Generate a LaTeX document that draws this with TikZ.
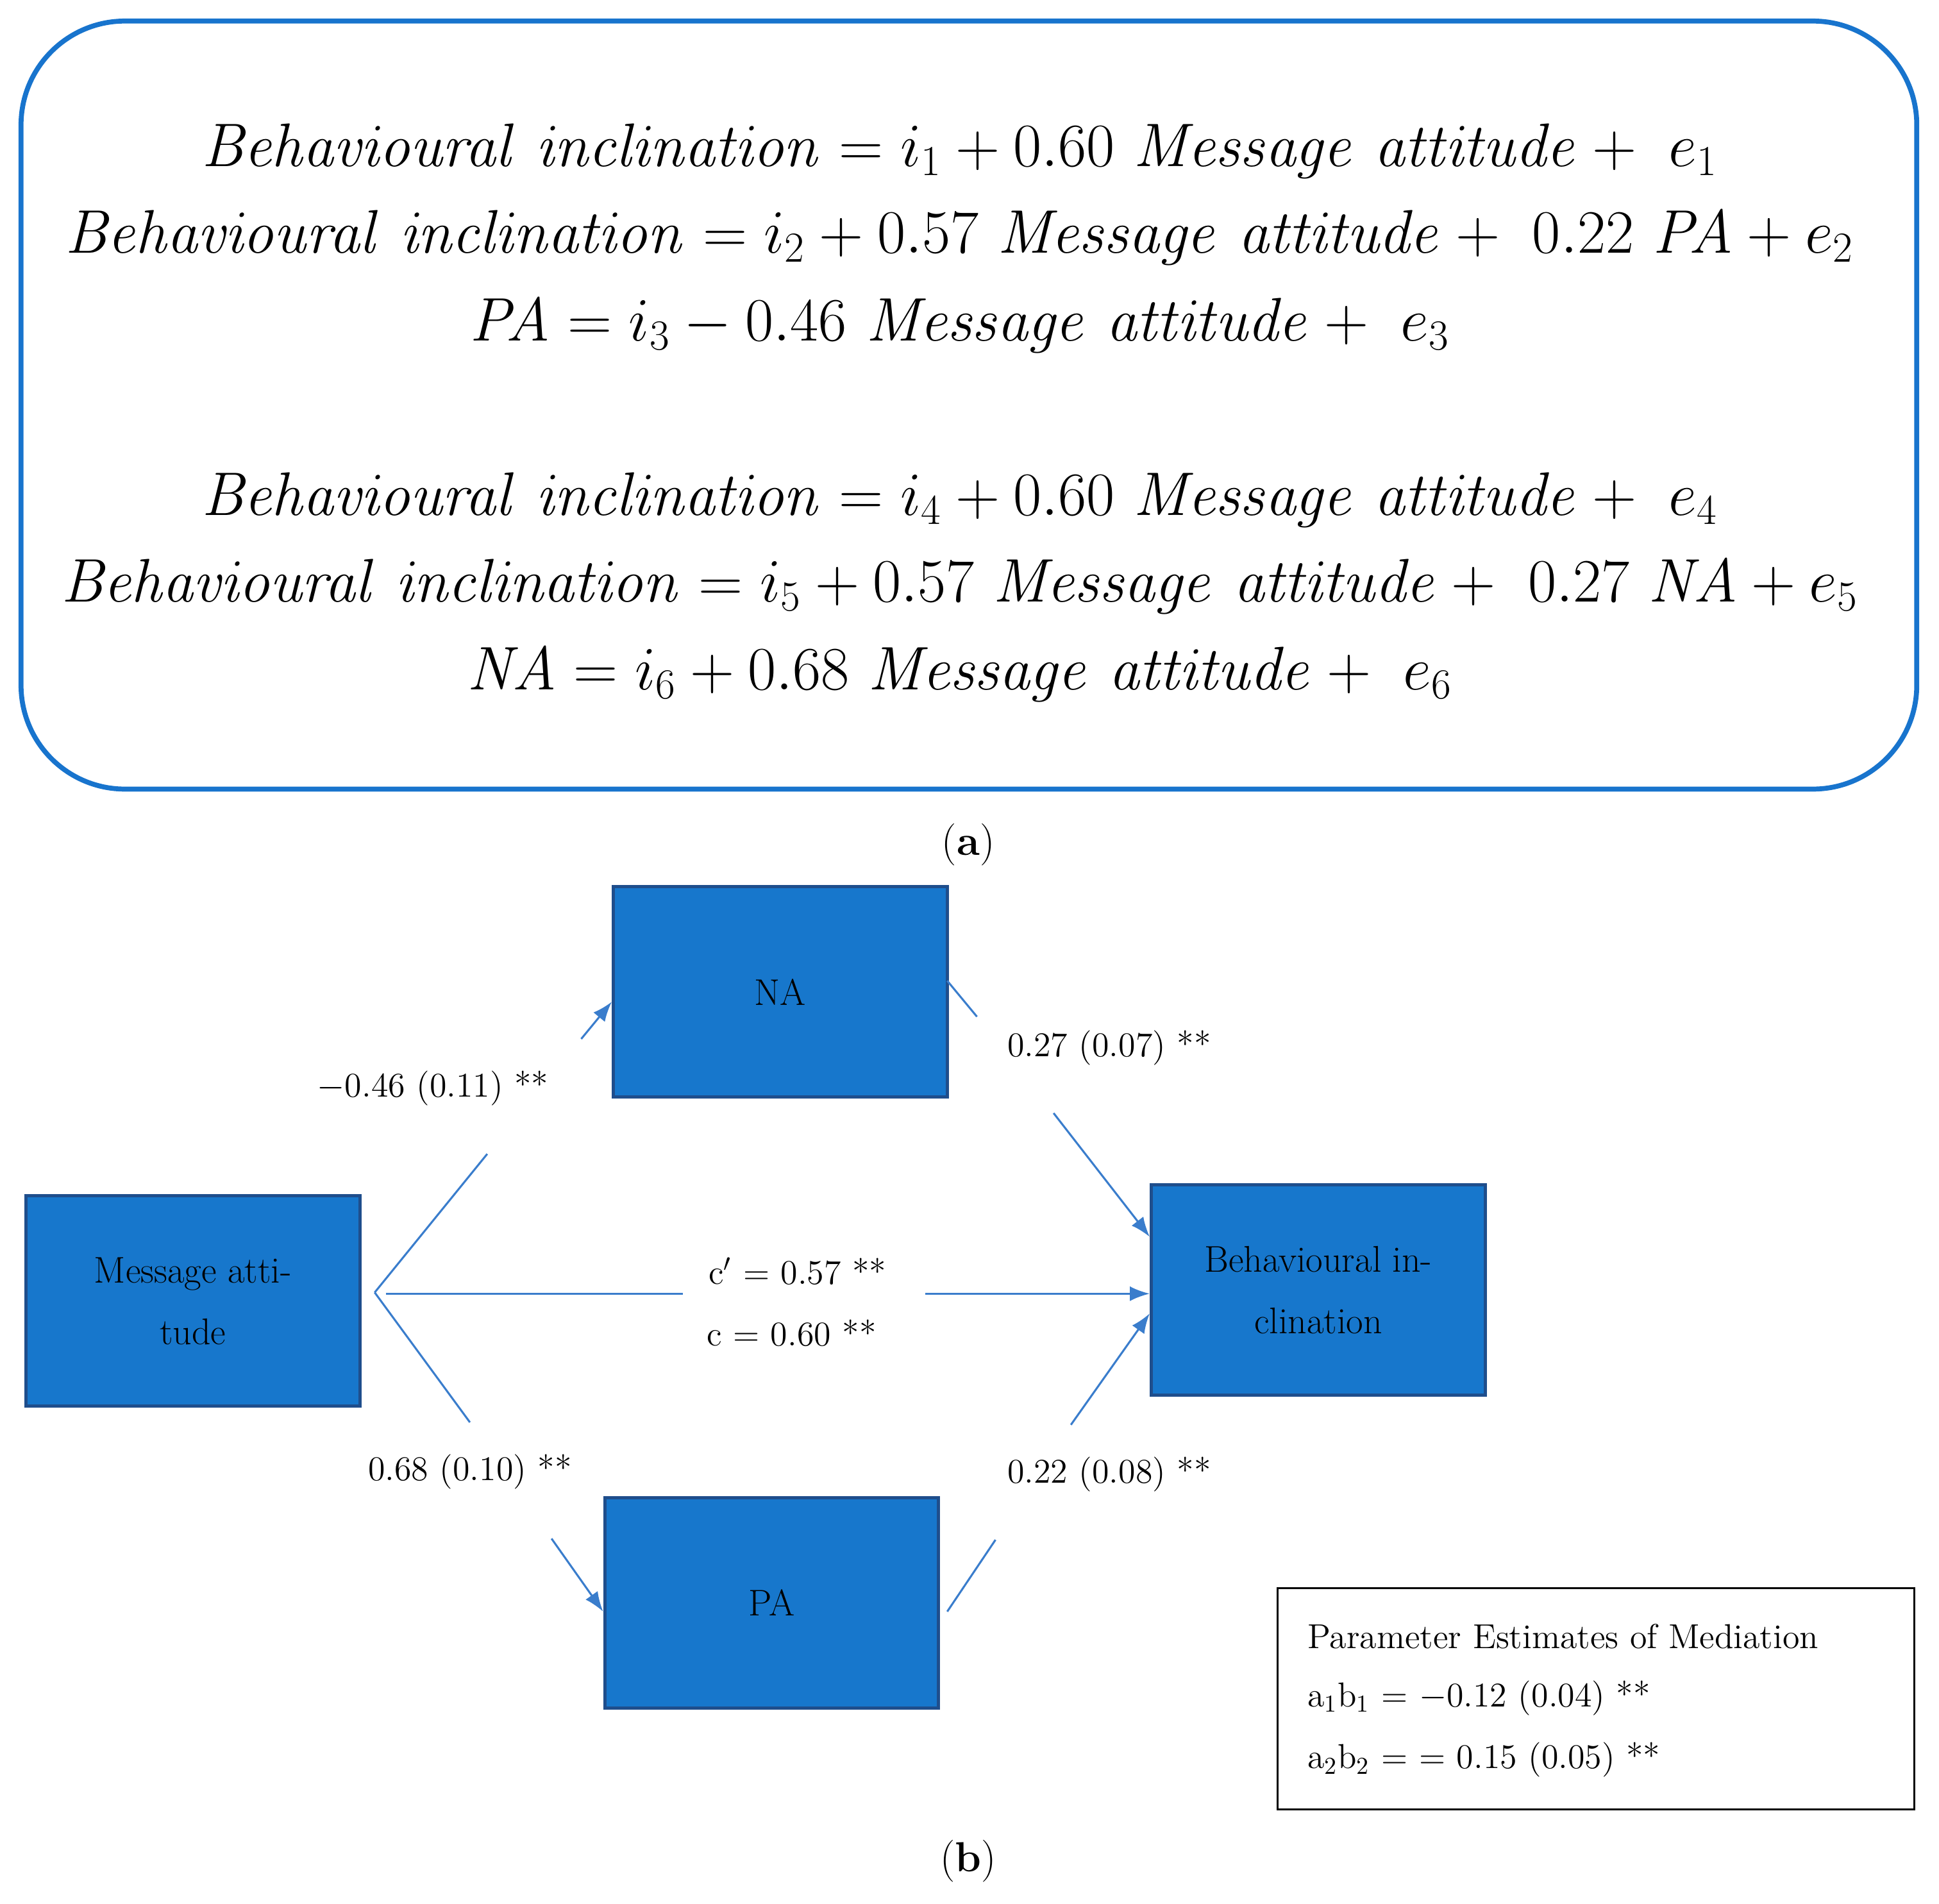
\documentclass[tikz,border=0pt]{standalone}
\usepackage{amsmath}
\usetikzlibrary{arrows.meta}
\definecolor{frameblue}{HTML}{1874CD}
\definecolor{boxfill}{HTML}{1777CC}
\definecolor{boxedge}{HTML}{1F4E8C}
\definecolor{lineblue}{HTML}{3A7DCC}
\begin{document}
\begin{tikzpicture}[x=0.5pt,y=-0.5pt,
  eq/.style={font=\fontsize{25}{30}\selectfont},
  box/.style={draw=boxedge,line width=1.3pt,fill=boxfill,minimum width=135pt,minimum height=85pt,align=center,font=\fontsize{15}{25}\selectfont,inner sep=0pt},
  lab/.style={font=\fontsize{14}{16}\selectfont,inner sep=0pt},
  conn/.style={draw=lineblue,line width=0.8pt},
  arr/.style={conn,-{Latex[length=8pt,width=6pt]}}]
\useasboundingbox (0,0) rectangle (1568,1539);
\draw[frameblue,line width=2pt,rounded corners=42pt] (17,17) rectangle (1550,638);
\node[eq] (e1) at (776,122) {$\mathit{Behavioural\ inclination}=i_1+0.60\ \mathit{Message\ attitude}+\ e_1$};
\node[eq] (e2) at (776,192) {$\mathit{Behavioural\ inclination}=i_2+0.57\ \mathit{Message\ attitude}+\ 0.22\ \mathit{PA}+e_2$};
\node[eq] (e3) at (776,263) {$\mathit{PA}=i_3-0.46\ \mathit{Message\ attitude}+\ e_3$};
\node[eq] (e4) at (776,404) {$\mathit{Behavioural\ inclination}=i_4+0.60\ \mathit{Message\ attitude}+\ e_4$};
\node[eq] (e5) at (776,474) {$\mathit{Behavioural\ inclination}=i_5+0.57\ \mathit{Message\ attitude}+\ 0.27\ \mathit{NA}+e_5$};
\node[eq] (e6) at (776,545) {$\mathit{NA}=i_6+0.68\ \mathit{Message\ attitude}+\ e_6$};
\node[font=\fontsize{17}{18}\selectfont] (ta) at (783,683) {(\textbf{a})};
\node[font=\fontsize{17}{18}\selectfont] (tb) at (783,1505) {(\textbf{b})};

\node[box] (na) at (631,802) {NA};
\node[box] (ma) at (156,1052) {Message atti-\\tude};
\node[box] (bi) at (1066,1043) {Behavioural in-\\clination};
\node[box] (pa) at (624,1296) {PA};

\coordinate (o1) at (303,1045);
\coordinate (o2) at (312,1046);
\coordinate (g1) at (394,933); \coordinate (h1) at (470,840);
\coordinate (g2) at (380,1150); \coordinate (h2) at (446,1244);
\coordinate (g3) at (552,1046); \coordinate (h3) at (748,1046);
\coordinate (n1) at (766,793); \coordinate (g4) at (790,822); \coordinate (h4) at (852,900);
\coordinate (p1) at (766,1303); \coordinate (g5) at (805,1245); \coordinate (h5) at (866,1152);

\draw[conn] (o1) -- (g1); \draw[arr] (h1) -- (na.west|-{(0,810)});
\draw[conn] (o1) -- (g2); \draw[arr] (h2) -- (pa.west|-{(0,1303)});
\draw[conn] (o2) -- (g3); \draw[arr] (h3) -- (bi.west|-{(0,1046)});
\draw[conn] (n1) -- (g4); \draw[arr] (h4) -- (bi.west|-{(0,1000)});
\draw[conn] (p1) -- (g5); \draw[arr] (h5) -- (bi.west|-{(0,1062)});

\node[lab] (l1) at (350,880) {$-$0.46 (0.11) **};
\node[lab] (l2) at (380,1190) {0.68 (0.10) **};
\node[lab] (l3) at (645,1028) {c$'$ = 0.57 **};
\node[lab] (l4) at (640,1078) {c = 0.60 **};
\node[lab] (l5) at (897,847) {0.27 (0.07) **};
\node[lab] (l6) at (897,1192) {0.22 (0.08) **};

\draw[black,line width=0.8pt] (1033,1284) rectangle (1548,1463);
\node[lab,anchor=west] (k1) at (1057,1323) {Parameter Estimates of Mediation};
\node[lab,anchor=west] (k2) at (1057,1373) {a\textsubscript{1}b\textsubscript{1} = $-$0.12 (0.04) **};
\node[lab,anchor=west] (k3) at (1057,1423) {a\textsubscript{2}b\textsubscript{2} = = 0.15 (0.05) **};
\end{tikzpicture}
\end{document}
